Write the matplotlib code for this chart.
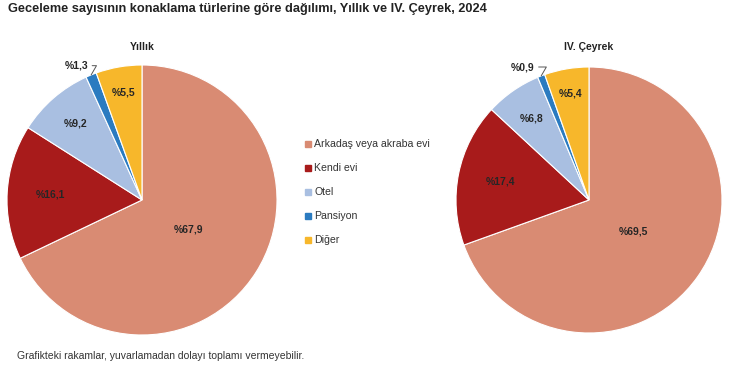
import numpy as np
import matplotlib.pyplot as plt
from matplotlib.lines import Line2D

plt.rcParams['font.family'] = ['Liberation Sans', 'DejaVu Sans']

categories = ['Arkadaş veya akraba evi', 'Kendi evi', 'Otel', 'Pansiyon', 'Diğer']
colors = ['#D98B73', '#A81B1B', '#A9BFE1', '#2B7BC0', '#F7B72B']
yillik = [67.9, 16.1, 9.2, 1.3, 5.5]
ceyrek = [69.5, 17.4, 6.8, 0.9, 5.4]
panel_titles = ['Yıllık', 'IV. Çeyrek']

title = 'Geceleme sayısının konaklama türlerine göre dağılımı, Yıllık ve IV. Çeyrek, 2024'
note = 'Grafikteki rakamlar, yuvarlamadan dolayı toplamı vermeyebilir.'

W, H = 750, 384
fig = plt.figure(figsize=(W / 100, H / 100), dpi=100)

# label radius (fraction of pie radius) per slice; None = outside label
label_r = [0.41, 0.68, 0.75, None, 0.81]


def fmt(v):
    return '%' + f'{v:.1f}'.replace('.', ',')


def draw_pie(cx, cy, r, values, ptitle, out_offset):
    ax = fig.add_axes([(cx - r) / W, (H - cy - r) / H, 2 * r / W, 2 * r / H])
    ax.pie(values, colors=colors, startangle=90, counterclock=False, radius=1,
           wedgeprops=dict(edgecolor='white', linewidth=0.8))
    ax.set_xlim(-1, 1)
    ax.set_ylim(-1, 1)
    ax.set_aspect('equal')
    ax.axis('off')
    cum = np.cumsum([0] + values)
    for i, v in enumerate(values):
        mid = np.deg2rad(90 - 360 * (cum[i] + v / 2) / 100)
        if label_r[i] is not None:
            rr = label_r[i]
            ax.text(rr * np.cos(mid), rr * np.sin(mid), fmt(v), ha='center', va='center',
                    fontsize=7.5, fontweight='bold', color='#262626')
        else:
            ex, ey = np.cos(mid), np.sin(mid)
            ax.annotate(fmt(v), xy=(ex, ey), xytext=out_offset, textcoords='data',
                        ha='right', va='center', fontsize=7.5, fontweight='bold', color='#262626',
                        arrowprops=dict(arrowstyle='-', color='#555555', lw=0.7,
                                        connectionstyle='angle,angleA=0,angleB=60,rad=0',
                                        shrinkA=1, shrinkB=0))
    fig.text(cx / W, 1 - 47 / H, ptitle, ha='center', va='center', fontsize=7.5,
             fontweight='bold', color='#222222')


draw_pie(142, 200, 135, yillik, panel_titles[0], (-0.40, 0.995))
draw_pie(589, 200, 133, ceyrek, panel_titles[1], (-0.41, 1.0))

handles = [Line2D([0], [0], marker='s', linestyle='none', markersize=4,
                  markerfacecolor=c, markeredgecolor=c) for c in colors]
fig.legend(handles, categories, loc='upper left', bbox_to_anchor=(301 / W, 1 - 135 / H),
           frameon=False, fontsize=7.6, labelcolor='#333333', handlelength=0.6,
           handletextpad=0.25, labelspacing=1.33, borderaxespad=0)

fig.text(8 / W, 1 - 9 / H, title, ha='left', va='center', fontsize=9.2,
         fontweight='bold', color='#222222')
fig.text(17 / W, 1 - 356 / H, note, ha='left', va='center', fontsize=7.5, color='#333333')

fig.savefig('out.png', dpi=100, facecolor='white')
